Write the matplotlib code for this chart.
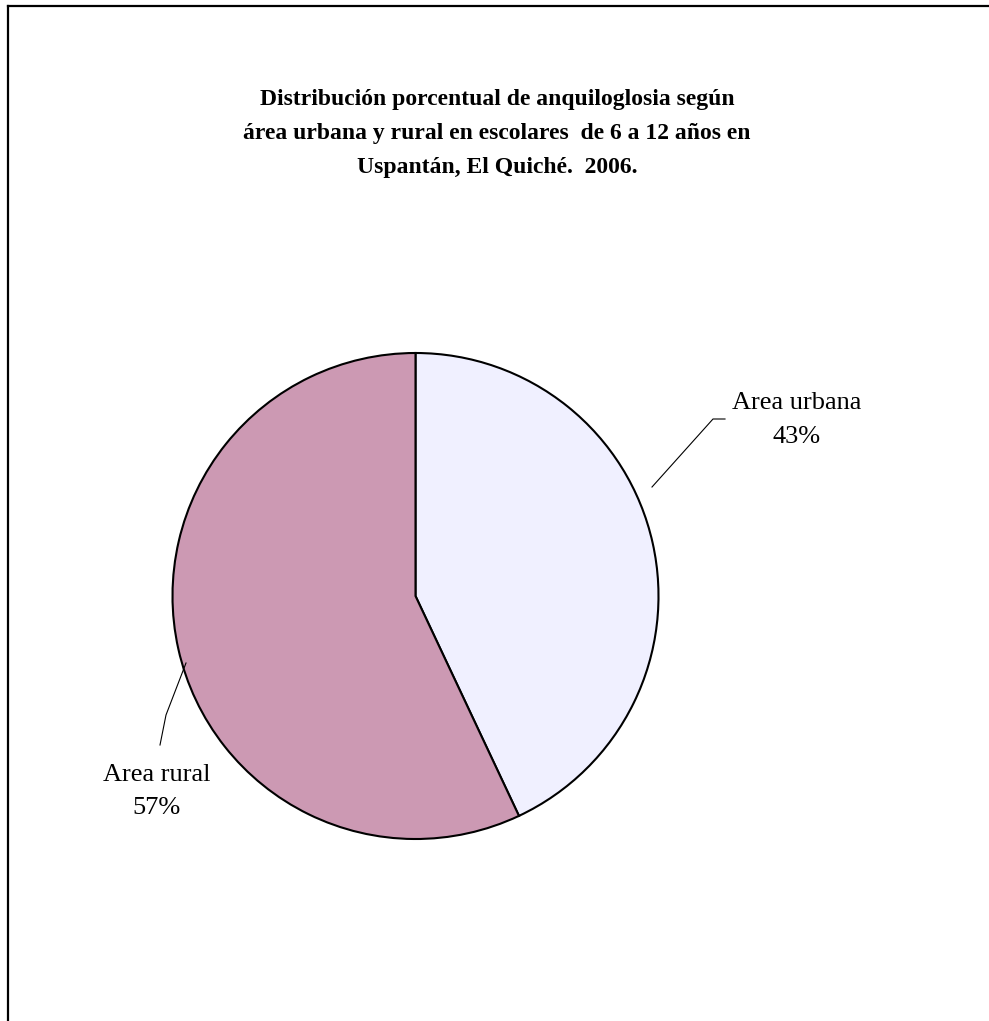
import matplotlib
matplotlib.use("Agg")
import matplotlib.pyplot as plt
from matplotlib.lines import Line2D

# Data
categories = ["Area urbana", "Area rural"]
percentages = [43, 57]
colors = ["#F0F0FF", "#CC99B3"]
title_lines = [
    "Distribución porcentual de anquiloglosia según",
    "área urbana y rural en escolares  de 6 a 12 años en",
    "Uspantán, El Quiché.  2006.",
]

W, H = 989, 1021
fig = plt.figure(figsize=(W / 100, H / 100), dpi=100)
fig.patch.set_facecolor("white")

# Frame lines (top and left)
fig.add_artist(Line2D([7.5 / W, 1.0], [1 - 6 / H, 1 - 6 / H], color="black", lw=1.6,
                      transform=fig.transFigure))
fig.add_artist(Line2D([7.5 / W, 7.5 / W], [0.0, 1 - 6 / H], color="black", lw=1.6,
                      transform=fig.transFigure))

# Title
for i, line in enumerate(title_lines):
    fig.text(497 / W, 1 - (100 + 34 * i) / H, line, ha="center", va="center",
             fontsize=17, fontweight="bold", family="Liberation Serif")

# Pie axes placed by its center and radius in pixels
cx, cy, r = 415.5, 596, 243
ax = fig.add_axes([(cx - r) / W, (H - cy - r) / H, 2 * r / W, 2 * r / H])
ax.pie(percentages, colors=colors, startangle=90, counterclock=False, radius=1,
       wedgeprops=dict(edgecolor="black", linewidth=1.5))
ax.set_xlim(-1, 1)
ax.set_ylim(-1, 1)
ax.set_aspect("equal")
ax.axis("off")

def px(x, y):
    return (x - cx) / r, (cy - y) / r

# Labels with leader lines
lab_font = dict(fontsize=19, family="Liberation Serif", ha="center", va="center")
x0, y0 = px(797, 403)
ax.text(x0, y0, f"{categories[0]}", clip_on=False, **lab_font)
x1, y1 = px(797, 437)
ax.text(x1, y1, f"{percentages[0]}%", clip_on=False, **lab_font)
pts = [px(652, 487), px(713, 419), px(725, 419)]
ax.add_line(Line2D([p[0] for p in pts], [p[1] for p in pts], color="black", lw=0.8,
                   clip_on=False))

x2, y2 = px(157, 775)
ax.text(x2, y2, f"{categories[1]}", clip_on=False, **lab_font)
x3, y3 = px(157, 808)
ax.text(x3, y3, f"{percentages[1]}%", clip_on=False, **lab_font)
pts = [px(186, 663), px(166, 715), px(160, 745)]
ax.add_line(Line2D([p[0] for p in pts], [p[1] for p in pts], color="black", lw=0.8,
                   clip_on=False))

fig.savefig("out.png", dpi=100, facecolor="white")
